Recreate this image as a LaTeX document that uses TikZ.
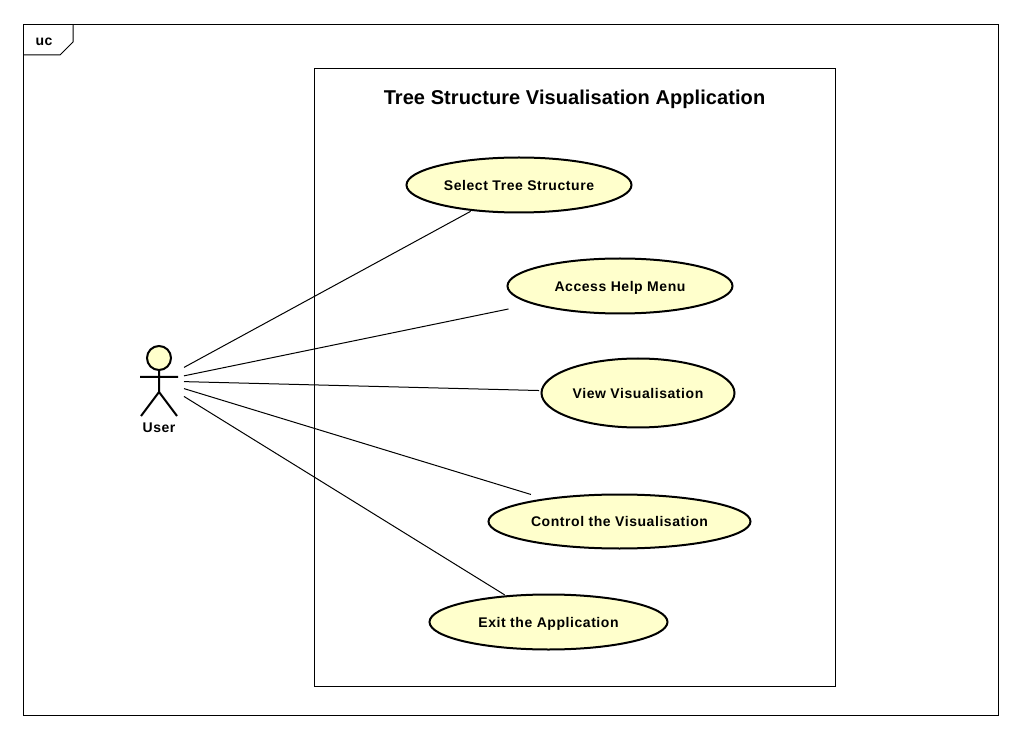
\documentclass[tikz,border=0pt]{standalone}
\usepackage{fontspec}
\setmainfont{Liberation Sans}
\newfontfamily\labelfont[LetterSpace=4]{Liberation Sans}
\newfontfamily\titlefont[LetterSpace=0.4]{Liberation Sans}
\usetikzlibrary{shapes.geometric}
\definecolor{ucfill}{HTML}{FFFFCC}
\begin{document}
\begin{tikzpicture}[x=0.75pt,y=-0.75pt,
          every node/.style = {inner sep = 0pt,
                              outer sep = 0pt},
          usecase/.style    = {ellipse,
                              draw,
                              fill = ucfill,
                              line width = 1.5pt,
                              text depth = 0pt,
                              font = \labelfont\bfseries\fontsize{10.5pt}{12pt}\selectfont},
          box/.style        = {rectangle,
                              draw,
                              line width = 0.75pt},
          stick/.style      = {line width = 1.5pt},
          assoc/.style      = {line width = 0.75pt,
                              shorten > = 2pt}]
  \useasboundingbox (0,0) rectangle (1020,730);

  % frame and system boundary
  \node [box, minimum width = 731.25pt, minimum height = 517.5pt] (frame) at (510.5,370) {};
  \draw [line width = 0.75pt] (23,55) -- (60,55) -- (73,42) -- (73,25);
  \node [font = \labelfont\bfseries\fontsize{10.5pt}{12pt}\selectfont] (uc) at (44,42) {uc};
  \node [box, minimum width = 390.75pt, minimum height = 463.5pt] (system) at (574.5,377.3) {};
  \node [font = \titlefont\bfseries\fontsize{15pt}{18pt}\selectfont] (title) at (574.5,99.5) {Tree Structure Visualisation Application};

  % actor
  \node [minimum width = 37.5pt, minimum height = 60pt] (actor) at (159,381) {};
  \draw [stick, fill = ucfill] (159,358) circle [radius = 12];
  \draw [stick] (159,370) -- (159,392)
                (140,377) -- (178,377)
                (141,416) -- (159,392) -- (177,416);
  \node [font = \labelfont\bfseries\fontsize{10.5pt}{12pt}\selectfont] (user) at (159,428) {User};

  % use cases
  \node [usecase, minimum width = 168.75pt, minimum height = 41.25pt] (select) at (519,185) {Select Tree Structure};
  \node [usecase, minimum width = 168.75pt, minimum height = 41.25pt] (help) at (620,286) {Access Help Menu};
  \node [usecase, minimum width = 144.75pt, minimum height = 51.75pt] (view) at (638,393) {View Visualisation};
  \node [usecase, minimum width = 196.5pt, minimum height = 40.5pt] (control) at (619.5,521.5) {Control the Visualisation};
  \node [usecase, minimum width = 178.5pt, minimum height = 41.25pt] (exit) at (548.5,622) {Exit the Application};

  \draw [assoc] (actor) -- (select);
  \draw [assoc, shorten > = 19.5pt] (actor) -- (help);
  \draw [assoc] (actor) -- (view);
  \draw [assoc, shorten > = 12pt] (actor) -- (control);
  \draw [assoc] (actor) -- (exit);
\end{tikzpicture}
\end{document}
